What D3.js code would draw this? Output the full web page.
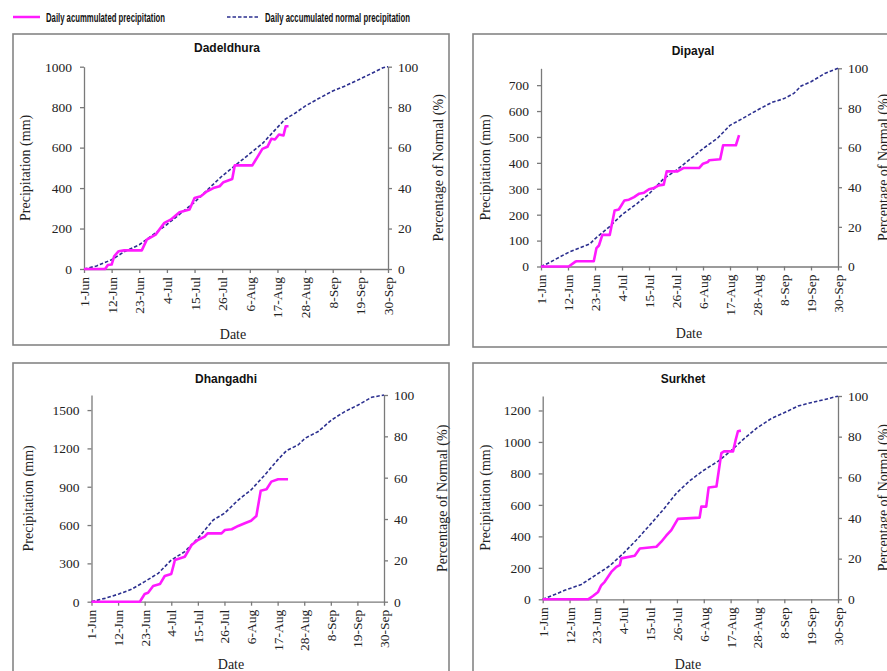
<!DOCTYPE html>
<html>
<head>
<meta charset="utf-8">
<script src="https://cdn.jsdelivr.net/npm/d3@7"></script>
<style>
  body { margin: 0; background: #fff; }
  svg { display: block; }
</style>
</head>
<body>
<svg id="chart" width="887" height="671"></svg>
<script>
// days are counted from 1-Jun (day 0) to 30-Sep (day 121)
var stations = ["Dadeldhura", "Dipayal", "Dhangadhi", "Surkhet"];
var dateLabels = ["1-Jun", "12-Jun", "23-Jun", "4-Jul", "15-Jul", "26-Jul", "6-Aug",
                  "17-Aug", "28-Aug", "8-Sep", "19-Sep", "30-Sep"];
var dateDays = [0, 11, 22, 33, 44, 55, 66, 77, 88, 99, 110, 121];
var percentTicks = [0, 20, 40, 60, 80, 100];

var mmTicks = [
  [0, 200, 400, 600, 800, 1000],
  [0, 100, 200, 300, 400, 500, 600, 700],
  [0, 300, 600, 900, 1200, 1500],
  [0, 200, 400, 600, 800, 1000, 1200]
];
// seasonal normal total (= 100 %) for each station
var normalTotal = [1000, 765, 1618, 1292];

var dadeldhuraNormal = [[0,0],[5,15],[11,46],[16,85],[22,120],[27,165],[33,220],[38,270],
  [44,330],[49,390],[55,460],[60,510],[66,570],[71,620],[77,700],[80,740],[84,770],
  [88,805],[93,840],[99,880],[104,905],[110,940],[115,970],[119,995],[121,1000]];
var dadeldhuraActual = [[0,0],[8.4,0],[9.5,20],[11,22],[12,63],[13.8,88],[16,92],[23,92],
  [25,145],[28.5,170],[32,228],[34.5,244],[38,280],[42,294],[44,351],[46.5,360],[49,384],
  [51.5,400],[54,409],[55.5,429],[59,445],[60,512],[67,512],[71,594],[73,604],[74.6,644],
  [76,640],[77.6,665],[79.4,660],[80.3,706],[81.4,706]];

var dipayalNormal = [[0,0],[3.8,17],[9.3,45],[11.3,55],[20,88],[22,107],[27.7,152],[33,200],
  [39,242],[44,280],[50,339],[55,371],[61,416],[66,455],[72,496],[77,545],[80,560],
  [88,603],[94,633],[99,648],[103,668],[106,697],[110,713],[115.6,745],[121,765]];
var dipayalActual = [[0,0],[11.3,0],[13.9,18],[14.5,20],[21.5,20],[22.6,71],[23.6,81],
  [25,122],[28,122],[30,216],[31.7,220],[34,255],[35.8,258],[37.9,268],[40,281],[42,285],
  [44,298],[46,303],[48,313],[50,316],[51.2,367],[55.6,367],[58,380],[64.4,380],[66,397],
  [68,403],[68.5,410],[73,414],[74.2,468],[79.4,468],[80.7,507]];

var dhangadhiNormal = [[0,0],[5.5,26],[11.3,60],[16.5,97],[22,157],[27.6,222],[33,326],
  [38.6,392],[44,496],[50.4,640],[55,692],[60.7,796],[66,875],[71.7,992],[77,1110],
  [80.7,1183],[85.5,1227],[88.3,1279],[93.8,1332],[99.3,1423],[104.8,1488],[110.3,1540],
  [115.9,1600],[121,1618]];
var dhangadhiActual = [[0,0],[20,0],[22,60],[23.4,70],[25.5,123],[28.3,138],[30.3,201],
  [33,217],[34.5,326],[38.6,352],[41.4,444],[44,483],[46.8,509],[48,535],[53.8,535],
  [55.2,561],[58,567],[60.7,593],[63.4,614],[66,634],[68.2,671],[70,869],[72.4,880],
  [74.4,940],[77.2,958],[81.3,958]];

var surkhetNormal = [[0,0],[4.9,30],[9,57],[15.8,94],[22,157],[27.5,213],[33,291],
  [38.4,377],[43.9,472],[49.3,568],[54.8,674],[60.2,753],[65.7,817],[71.8,877],[76.9,940],
  [82.1,1015],[87.8,1089],[93.7,1149],[98.9,1185],[104.6,1228],[109.8,1249],[115.6,1270],
  [121,1291]];
var surkhetActual = [[0,0],[18.6,0],[20.6,21],[22.7,47],[24,89],[25.4,111],[28.1,174],
  [30.2,206],[31.6,217],[32.2,260],[37.7,277],[39.8,323],[46.6,334],[48.6,366],[50.6,404],
  [52.7,440],[55.4,511],[64.3,519],[65,589],[67,589],[68,711],[71.2,717],[73.2,929],
  [74.3,940],[78,940],[79,1008],[80,1068],[81.2,1072]];

var normals = [dadeldhuraNormal, dipayalNormal, dhangadhiNormal, surkhetNormal];
var actuals = [dadeldhuraActual, dipayalActual, dhangadhiActual, surkhetActual];

// page layout of the four framed panels
var layout = [
  { box: [13, 34, 436, 311], plot: [84, 66.7, 388, 269], title: [227, 52], ylab: 30, rlab: 443, date: [233, 339] },
  { box: [473, 34, 440, 313], plot: [541, 68.3, 838, 266.5], title: [693, 55], ylab: 490, rlab: 888, date: [689, 338] },
  { box: [13, 363, 436, 330], plot: [91.5, 395, 384, 601.7], title: [226, 383], ylab: 33, rlab: 447, date: [231, 669] },
  { box: [473, 363, 440, 330], plot: [542.7, 396, 838, 599.3], title: [683, 383], ylab: 490, rlab: 888, date: [688, 669] }
];

var serif = "'Liberation Serif','Times New Roman',serif",
    sans = "'Liberation Sans',Arial,sans-serif",
    pink = "#ff1aff",
    navy = "#2b2f8f",
    axisGrey = "#7a7a7a";

var svg = d3.select("#chart");

// legend
var legend = svg.append("g");
legend.append("line").attr("x1", 13).attr("x2", 40).attr("y1", 17).attr("y2", 17)
      .attr("stroke", pink).attr("stroke-width", 2.5);
legend.append("text").attr("x", 46).attr("y", 21.5)
      .attr("textLength", 119).attr("lengthAdjust", "spacingAndGlyphs")
      .style("font-family", sans).style("font-weight", "bold").style("font-size", "12.5px")
      .attr("fill", "#111").text("Daily acummulated precipitation");
legend.append("line").attr("x1", 227).attr("x2", 258).attr("y1", 17).attr("y2", 17)
      .attr("stroke", navy).attr("stroke-width", 1.5).attr("stroke-dasharray", "3.5,2");
legend.append("text").attr("x", 265).attr("y", 21.5)
      .attr("textLength", 145).attr("lengthAdjust", "spacingAndGlyphs")
      .style("font-family", sans).style("font-weight", "bold").style("font-size", "12.5px")
      .attr("fill", "#111").text("Daily accumulated normal precipitation");

stations.forEach(function (name, i) {
  var p = layout[i],
      g = svg.append("g"),
      left = p.plot[0], top = p.plot[1], right = p.plot[2], bottom = p.plot[3];

  var x = d3.scaleLinear().domain([0, 121]).range([left, right]),
      y = d3.scaleLinear().domain([0, normalTotal[i]]).range([bottom, top]),
      yr = d3.scaleLinear().domain([0, 100]).range([bottom, top]);

  g.append("rect")
   .attr("x", p.box[0]).attr("y", p.box[1]).attr("width", p.box[2]).attr("height", p.box[3])
   .attr("fill", "none").attr("stroke", "#858585").attr("stroke-width", 1.6);

  g.append("text").attr("x", p.title[0]).attr("y", p.title[1])
   .attr("text-anchor", "middle").style("font-family", sans).style("font-weight", "bold")
   .style("font-size", "12px").attr("fill", "#111").text(name);

  var xAxis = g.append("g").attr("transform", "translate(0," + bottom + ")")
    .call(d3.axisBottom(x).tickValues(dateDays)
      .tickFormat(function (d, j) { return dateLabels[j]; })
      .tickSize(4).tickSizeOuter(0));
  xAxis.selectAll("text")
       .attr("x", -8).attr("y", 0).attr("dy", "0.33em")
       .attr("transform", "rotate(-90)").style("text-anchor", "end");

  var yAxis = g.append("g").attr("transform", "translate(" + left + ",0)")
    .call(d3.axisLeft(y).tickValues(mmTicks[i]).tickFormat(d3.format("d"))
      .tickSize(4).tickPadding(8).tickSizeOuter(0));

  var rAxis = g.append("g").attr("transform", "translate(" + right + ",0)")
    .call(d3.axisRight(yr).tickValues(percentTicks).tickFormat(d3.format("d"))
      .tickSize(4).tickPadding(6).tickSizeOuter(0));

  [xAxis, yAxis, rAxis].forEach(function (a) {
    a.selectAll("path, line").attr("stroke", axisGrey).attr("stroke-width", 1.3);
    a.selectAll("text").attr("fill", "#222")
     .style("font-family", serif).style("font-size", "13.5px");
  });

  g.append("text").attr("transform", "translate(" + p.ylab + "," + ((top + bottom) / 2) + ") rotate(-90)")
   .attr("text-anchor", "middle").style("font-family", serif).style("font-size", "14px")
   .attr("fill", "#222").text("Precipitation (mm)");
  g.append("text").attr("transform", "translate(" + p.rlab + "," + ((top + bottom) / 2) + ") rotate(-90)")
   .attr("text-anchor", "middle").style("font-family", serif).style("font-size", "14px")
   .attr("fill", "#222").text("Percentage of Normal (%)");
  g.append("text").attr("x", p.date[0]).attr("y", p.date[1])
   .attr("text-anchor", "middle").style("font-family", serif).style("font-size", "14px")
   .attr("fill", "#222").text("Date");

  var line = d3.line()
               .x(function (d) { return x(d[0]); })
               .y(function (d) { return y(d[1]); });

  g.append("path").datum(normals[i]).attr("d", line)
   .attr("fill", "none").attr("stroke", navy).attr("stroke-width", 1.6)
   .attr("stroke-dasharray", "3.5,2");

  g.append("path").datum(actuals[i]).attr("d", line)
   .attr("fill", "none").attr("stroke", pink).attr("stroke-width", 2.6)
   .attr("stroke-linejoin", "round");
});
</script>
</body>
</html>
